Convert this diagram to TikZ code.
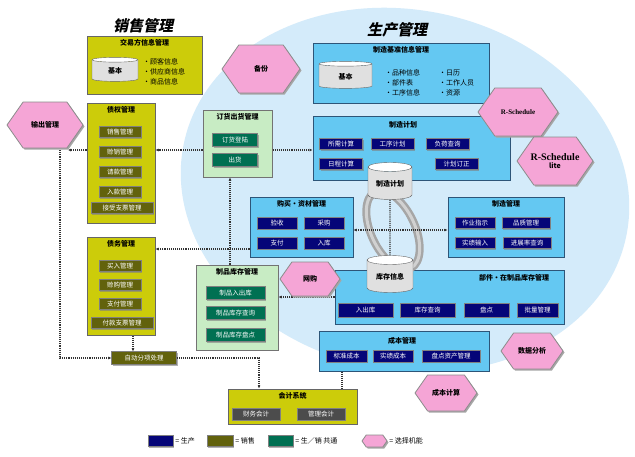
\documentclass[tikz,border=0pt]{standalone}
\usepackage{fontspec}
\setmainfont{Noto Sans CJK SC}
\newfontfamily\titelfont{Noto Sans CJK SC}[FakeSlant=0.22]
\newfontfamily\rsfont{Liberation Serif}
\usetikzlibrary{shapes.geometric,shadows,arrows.meta,calc,positioning}

\definecolor{kreis}{RGB}{212,235,250}
\definecolor{saleyel}{RGB}{204,204,10}
\definecolor{saleoliv}{RGB}{98,98,12}
\definecolor{prodblau}{RGB}{100,200,242}
\definecolor{prodrand}{RGB}{45,85,120}
\definecolor{prodnavy}{RGB}{5,5,120}
\definecolor{comgruen}{RGB}{200,236,196}
\definecolor{comdunkel}{RGB}{0,112,82}
\definecolor{rosa}{RGB}{245,165,214}

\tikzset{
  salebox/.style={draw=black!60, fill=saleyel, line width=1pt, inner sep=0pt},
  prodbox/.style={draw=prodrand, fill=prodblau, line width=1pt, inner sep=0pt},
  combox/.style={draw=black!55, fill=comgruen, line width=1pt, inner sep=0pt},
  titel/.style={font=\bfseries\fontsize{7}{8}\selectfont, inner sep=1pt},
  item/.style={draw=black!50, text=white, font=\fontsize{6.5}{7}\selectfont,
    minimum height=11, inner sep=1pt,
    drop shadow={shadow xshift=1.2pt, shadow yshift=-1.2pt, opacity=0.6}},
  saleitem/.style={item, fill=saleoliv},
  proditem/.style={item, fill=prodnavy},
  comitem/.style={item, fill=comdunkel},
  acctitem/.style={item, fill=black!70},
  conn/.style={densely dotted, line width=1.1pt, black!80},
  pfeil/.style={conn, -{Latex[length=3pt,width=3pt]}},
  hexa/.style={draw=black!45, fill=rosa, line width=0.8pt},
  hexlbl/.style={font=\bfseries\fontsize{7}{8}\selectfont, inner sep=0pt, align=center},
  tonne/.style={cylinder, shape border rotate=90, aspect=0.3, draw=black!60,
    cylinder uses custom fill, cylinder body fill=black!12, cylinder end fill=white,
    font=\bfseries\fontsize{7}{8}\selectfont, inner sep=1pt},
  liste/.style={font=\fontsize{7}{10}\selectfont, align=left, inner sep=0pt, anchor=west},
  haupt/.style={font=\titelfont\bfseries\fontsize{15}{16}\selectfont},
  legtext/.style={font=\fontsize{7}{8}\selectfont, inner sep=1pt},
}

% Sechseck: Mitte (x,y), halbe Breite, halbe Hoehe
\newcommand{\hexpfad}[4]{(#1-#3,#2) -- (#1-#3+0.7*#4,#2-#4) -- (#1+#3-0.7*#4,#2-#4) -- (#1+#3,#2) -- (#1+#3-0.7*#4,#2+#4) -- (#1-#3+0.7*#4,#2+#4) -- cycle}
\newcommand{\sechseck}[6]{%
  \fill[black!35, xshift=1.5pt, yshift=-1.5pt] \hexpfad{#2}{#3}{#4}{#5};
  \draw[hexa] \hexpfad{#2}{#3}{#4}{#5};
  \node[hexlbl, minimum width=2*#4, minimum height=2*#5] (#1) at (#2,#3) {#6};
}

\begin{document}
\begin{tikzpicture}[x=1pt, y=-1pt]
\useasboundingbox[fill=white] (0,0) rectangle (635,456);

% Hintergrund Produktion
\fill[kreis] (405,190) ellipse [x radius=226, y radius=180, rotate=-12];

\node[haupt] (vt) at (143,26) {销售管理};
\node[haupt] (pt) at (397,30) {生产管理};

%Vertrieb
\node[salebox, minimum width=115, minimum height=58] (jy) at (144.5,65) {};
\node[titel, below=3pt of jy.north] {交易方信息管理};
\node[tonne, minimum width=46, minimum height=24] (jyb) at (115,71) {基本};
\node[liste] at (143,72) {·顾客信息\\·供应商信息\\·商品信息};

\node[salebox, minimum width=68, minimum height=120] (zq) at (121,163) {};
\node[titel, below=3pt of zq.north] {债权管理};
\foreach \t [count=\i] in {销售管理,赊销管理,请款管理,入款管理}
  \node[saleitem, minimum width=42] (zq\i) at (120,112+20*\i) {\t};
\node[saleitem, minimum width=62] (zq5) at (122,208) {接受支票管理};

\node[salebox, minimum width=68, minimum height=98] (zw) at (121,286) {};
\node[titel, below=3pt of zw.north] {债务管理};
\foreach \t [count=\i] in {买入管理,赊购管理,支付管理}
  \node[saleitem, minimum width=42] (zw\i) at (120,247+19*\i) {\t};
\node[saleitem, minimum width=62] (zw4) at (122,323) {付款支票管理};

\node[saleitem, minimum width=65, minimum height=13] (auto) at (144,358) {自动分项处理};

%gemeinsam
\node[combox, minimum width=69, minimum height=67] (dh) at (237.5,143.5) {};
\node[titel, below=3pt of dh.north] {订货出货管理};
\node[comitem, minimum width=45, minimum height=13] (dh1) at (235,140) {订货登陆};
\node[comitem, minimum width=45, minimum height=13] (dh2) at (235,160) {出货};

\node[combox, minimum width=82, minimum height=85] (zp) at (237,307.5) {};
\node[titel, below=3pt of zp.north] {制品库存管理};
\foreach \t/\yy [count=\i] in {制品入出库/293,制品库存查询/313,制品库存盘点/335}
  \node[comitem, minimum width=59, minimum height=13] (zp\i) at (235.5,\yy) {\t};

%Produktion
\node[prodbox, minimum width=176, minimum height=60] (jc) at (401,73) {};
\node[titel, below=3pt of jc.north] {制造基准信息管理};
\node[tonne, minimum width=53, minimum height=27] (jcb) at (345.5,76.5) {基本};
\node[liste] at (385,83) {·品种信息\\·部件表\\·工序信息};
\node[liste] at (439,83) {·日历\\·工作人员\\·资源};

\node[prodbox, minimum width=197, minimum height=64] (zj) at (411.5,148) {};
\node[titel] at (403,125) {制造计划};
\foreach \t/\xx/\yy [count=\i] in {所需计算/341/144,工序计划/392.5/144,负荷查询/447.5/144,日程计算/341/164,计划订正/456.5/164}
  \node[proditem, minimum width=43] (zj\i) at (\xx,\yy) {\t};

\node[prodbox, minimum width=103, minimum height=60] (gm) at (301.5,227) {};
\node[titel, below=3pt of gm.north] {购买·资材管理};
\foreach \t/\xx/\yy [count=\i] in {验收/277/223,采购/324/223,支付/277/243,入库/324/243}
  \node[proditem, minimum width=40, minimum height=12] (gm\i) at (\xx,\yy) {\t};

\node[prodbox, minimum width=116, minimum height=60] (zz) at (506,227) {};
\node[titel, below=3pt of zz.north] {制造管理};
\node[proditem, minimum width=40] (zz1) at (475,223) {作业指示};
\node[proditem, minimum width=48] (zz2) at (526,223) {品质管理};
\node[proditem, minimum width=40] (zz3) at (475,243) {实绩输入};
\node[proditem, minimum width=48] (zz4) at (527,243) {进展率查询};

\node[prodbox, minimum width=229, minimum height=54] (bj) at (449.5,297) {};
\node[titel] at (514,278) {部件·在制品库存管理};
\foreach \t/\xx/\ww [count=\i] in {入出库/365.5/55,库存查询/427.5/55,盘点/486.5/45,批量管理/537.5/41}
  \node[proditem, minimum width=\ww, minimum height=14] (bj\i) at (\xx,310) {\t};

\node[prodbox, minimum width=170, minimum height=40] (cbg) at (404,351) {};
\node[titel] at (402,341) {成本管理};
\foreach \t/\xx/\ww [count=\i] in {标准成本/346.5/41,实绩成本/393/40,盘点资产管理/451/58}
  \node[proditem, minimum width=\ww, minimum height=12] (cbg\i) at (\xx,356) {\t};

%Buchhaltung
\node[salebox, minimum width=129, minimum height=35] (kj) at (292.5,406.5) {};
\node[titel, below=3pt of kj.north] {会计系统};
\node[acctitem, minimum width=48, minimum height=12] (kj1) at (256,414) {财务会计};
\node[acctitem, minimum width=48, minimum height=12] (kj2) at (321,414) {管理会计};

% Ring um die Datenbanken
\draw[line width=8pt, black!35] (393,230) ellipse [x radius=22, y radius=42, rotate=25];
\draw[line width=3pt, black!18] (393,230) ellipse [x radius=22, y radius=42, rotate=25];
\node[tonne, minimum width=44, minimum height=37] (zjc) at (390,184) {制造计划};
\node[tonne, minimum width=46, minimum height=37] (kc) at (390,277) {库存信息};

%Verbindungen
\coordinate (outE) at (68,150);
\coordinate (outS) at (60,148);
\draw[pfeil] (outE -| zq.west) -- (outE);
\draw[pfeil] (outS) |- (auto.west);
\draw[pfeil] ([xshift=-11pt]auto.north |- zw.south) -- ([xshift=-11pt]auto.north);
\draw[pfeil] (auto.east) -| ([xshift=-33.5pt]kj.north);
\draw[conn] ([xshift=-62pt]cbg.south) -- ([xshift=-62pt]cbg.south |- kj.north);
\draw[pfeil] ([yshift=-6.5pt]dh.west) -- ([yshift=-6.5pt]dh.west -| zq.east);
\draw[pfeil] ([yshift=-6.5pt]dh.east) -- ([yshift=-6.5pt]dh.east -| zj.west);
\draw[pfeil] ([xshift=-7pt]zp.north) -- ([xshift=-7pt]zp.north |- dh.south);
\draw[pfeil] ([yshift=-22pt]gm.west) -- ([yshift=-22pt]gm.west -| zw.east);
\draw[conn, {Latex[length=3pt,width=3pt]}-{Latex[length=3pt,width=3pt]}] ([yshift=-3pt]gm.east) -- ([yshift=-3pt]gm.east -| zz.west);
\draw[conn] (zjc.south) -- (kc.north);
\draw[pfeil] (bj.west) -- (bj.west -| zp.east);

%Zusatzfunktionen
\sechseck{out}{45}{125}{38}{23}{输出管理}
\sechseck{bak}{261}{69}{39}{24}{备份}
\sechseck{rs}{518}{112}{40}{24}{\rsfont R-Schedule}
\sechseck{rsl}{555}{161}{38}{24}{\rsfont\fontsize{10}{11}\selectfont R-Schedule\\lite}
\sechseck{wg}{310}{279}{30}{17}{网购}
\sechseck{sj}{532}{351}{31}{18}{数据分析}
\sechseck{cbr}{446}{393}{31}{18}{成本计算}

%Legende
\node[proditem, minimum width=25, minimum height=11] (lg1) at (160.5,441) {};
\node[legtext, right=1pt of lg1] (lt1) {= 生产};
\node[saleitem, minimum width=26, minimum height=11] (lg2) at (220,441) {};
\node[legtext, right=1pt of lg2] (lt2) {= 销售};
\node[comitem, minimum width=25, minimum height=11] (lg3) at (280.5,441) {};
\node[legtext, right=1pt of lg3] (lt3) {= 生／销 共通};
\sechseck{lg4}{374.5}{441}{12.5}{6}{}
\node[legtext, right=1pt of lg4] (lt4) {= 选择机能};
\end{tikzpicture}
\end{document}
